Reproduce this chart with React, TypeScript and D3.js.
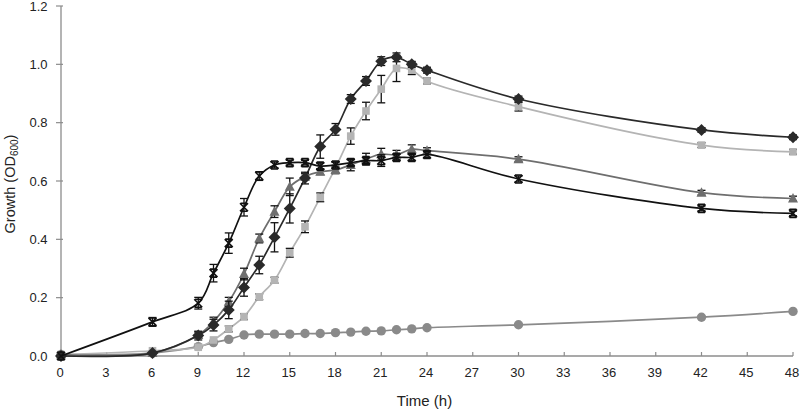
import React from "react";
import * as d3 from "d3";

const times = [0, 6, 9, 10, 11, 12, 13, 14, 15, 16, 17, 18, 19, 20, 21, 22, 23, 24, 30, 42, 48];
const crossVals = [0.0, 0.117, 0.181, 0.284, 0.387, 0.51, 0.617, 0.655, 0.663, 0.663, 0.651, 0.655, 0.663, 0.67, 0.67, 0.681, 0.681, 0.691, 0.607, 0.506, 0.489];
const crossErr = [0, 0.015, 0.02, 0.03, 0.035, 0.03, 0.015, 0.01, 0.008, 0.008, 0.01, 0.01, 0.01, 0.01, 0.02, 0.01, 0.01, 0.01, 0.01, 0.008, 0.008];
const triVals = [0.005, 0.01, 0.072, 0.118, 0.186, 0.281, 0.403, 0.495, 0.58, 0.615, 0.632, 0.638, 0.655, 0.675, 0.692, 0.69, 0.709, 0.704, 0.675, 0.56, 0.54];
const triErr = [0, 0, 0.01, 0.015, 0.015, 0.02, 0.015, 0.02, 0.03, 0.01, 0.01, 0.01, 0.02, 0.02, 0.02, 0.015, 0.015, 0.01, 0.008, 0.008, 0.008];
const diaVals = [0.0, 0.01, 0.07, 0.106, 0.158, 0.235, 0.312, 0.407, 0.506, 0.61, 0.718, 0.777, 0.881, 0.943, 1.011, 1.024, 1.0, 0.98, 0.881, 0.775, 0.75];
const diaErr = [0, 0, 0.015, 0.02, 0.03, 0.03, 0.03, 0.05, 0.05, 0.02, 0.04, 0.02, 0.015, 0.015, 0.015, 0.015, 0.01, 0.01, 0.01, 0.008, 0.008];
const sqVals = [0.005, 0.018, 0.03, 0.055, 0.093, 0.135, 0.203, 0.26, 0.354, 0.443, 0.544, 0.645, 0.754, 0.84, 0.915, 0.986, 0.98, 0.943, 0.855, 0.723, 0.7];
const sqErr = [0, 0, 0, 0, 0.01, 0.01, 0.01, 0.01, 0.015, 0.02, 0.015, 0.02, 0.028, 0.03, 0.047, 0.045, 0.015, 0.01, 0.015, 0.008, 0.008];
const circVals = [0.005, 0.01, 0.032, 0.046, 0.057, 0.072, 0.075, 0.075, 0.075, 0.077, 0.077, 0.08, 0.082, 0.085, 0.086, 0.09, 0.093, 0.097, 0.107, 0.133, 0.153];
const circErr = times.map(() => 0);

const xTicks = [0, 3, 6, 9, 12, 15, 18, 21, 24, 27, 30, 33, 36, 39, 42, 45, 48];
const yTicks = [0, 0.2, 0.4, 0.6, 0.8, 1.0, 1.2];

type Series = { vals: number[]; err: number[]; color: string; marker: string };
const series: Series[] = [
  { vals: circVals, err: circErr, color: "#8a8a8a", marker: "circle" },
  { vals: sqVals, err: sqErr, color: "#b4b4b4", marker: "square" },
  { vals: triVals, err: triErr, color: "#6e6e6e", marker: "triangle" },
  { vals: diaVals, err: diaErr, color: "#2a2a2a", marker: "diamond" },
  { vals: crossVals, err: crossErr, color: "#111111", marker: "cross" },
];

const W = 800, H = 412;
const x = d3.scaleLinear().domain([0, 48]).range([61, 793]);
const y = d3.scaleLinear().domain([0, 1.2]).range([356, 6]);

function Marker({ kind, cx, cy, color }: { kind: string; cx: number; cy: number; color: string }) {
  if (kind === "circle") return <circle cx={cx} cy={cy} r={4.7} fill={color} />;
  if (kind === "square") return <rect x={cx - 3.8} y={cy - 3.8} width={7.6} height={7.6} fill={color} />;
  if (kind === "triangle")
    return <path d={`M${cx},${cy - 5.5}L${cx + 5},${cy + 4}L${cx - 5},${cy + 4}Z`} fill={color} />;
  if (kind === "diamond")
    return <path d={`M${cx},${cy - 6}L${cx + 6},${cy}L${cx},${cy + 6}L${cx - 6},${cy}Z`} fill={color} />;
  return (
    <path
      d={`M${cx - 4},${cy - 4}L${cx + 4},${cy + 4}M${cx - 4},${cy + 4}L${cx + 4},${cy - 4}M${cx - 3.5},${cy - 4}L${cx + 3.5},${cy - 4}M${cx - 3.5},${cy + 4}L${cx + 3.5},${cy + 4}`}
      stroke={color}
      strokeWidth={1.6}
      fill="none"
    />
  );
}

export default function App() {
  const line = d3
    .line<number>()
    .x((_, i) => x(times[i]))
    .y((d) => y(d))
    .curve(d3.curveCatmullRom.alpha(0.5));
  const font = "'Liberation Sans', Arial, sans-serif";
  return (
    <svg width={W} height={H} style={{ position: "absolute", left: 0, top: 0, background: "#fff" }} fontFamily={font}>
      {/* axes */}
      <line x1={x(0)} x2={x(0)} y1={y(1.2)} y2={y(0)} stroke="#8c8c8c" strokeWidth={1.3} />
      <line x1={x(0)} x2={x(48)} y1={y(0)} y2={y(0)} stroke="#8c8c8c" strokeWidth={1.3} />
      {yTicks.map((t) => (
        <g key={"y" + t}>
          <line x1={x(0) - 5} x2={x(0) + 2} y1={y(t)} y2={y(t)} stroke="#8c8c8c" strokeWidth={1.2} />
          <text x={x(0) - 13.5} y={y(t)} dy="0.35em" textAnchor="end" fontSize={13} fill="#222">
            {t.toFixed(1)}
          </text>
        </g>
      ))}
      {xTicks.map((t) => (
        <g key={"x" + t}>
          <line x1={x(t)} x2={x(t)} y1={y(0)} y2={y(0) - 4} stroke="#8c8c8c" strokeWidth={1.2} />
          <text x={x(t) - 1} y={y(0) + 21} textAnchor="middle" fontSize={13} fill="#222">
            {t}
          </text>
        </g>
      ))}
      <text x={424.5} y={406} textAnchor="middle" fontSize={15} fill="#222">
        Time (h)
      </text>
      <text transform={`translate(14.5,184) rotate(-90)`} textAnchor="middle" fontSize={14.5} fill="#222">
        Growth (OD<tspan fontSize={10} dy={3.5}>600</tspan>
        <tspan dy={-3.5}>)</tspan>
      </text>
      {/* series */}
      {series.map((s, si) => (
        <g key={si}>
          <path d={line(s.vals) || ""} fill="none" stroke={s.color} strokeWidth={1.7} />
          {s.vals.map((v, i) =>
            s.err[i] > 0 ? (
              <g key={"e" + i} stroke="#111" strokeWidth={1.3}>
                <line x1={x(times[i])} x2={x(times[i])} y1={y(v - s.err[i])} y2={y(v + s.err[i])} />
                <line x1={x(times[i]) - 4} x2={x(times[i]) + 4} y1={y(v - s.err[i])} y2={y(v - s.err[i])} />
                <line x1={x(times[i]) - 4} x2={x(times[i]) + 4} y1={y(v + s.err[i])} y2={y(v + s.err[i])} />
              </g>
            ) : null
          )}
          {s.vals.map((v, i) => (
            <Marker key={i} kind={s.marker} cx={x(times[i])} cy={y(v)} color={s.color} />
          ))}
        </g>
      ))}
    </svg>
  );
}
